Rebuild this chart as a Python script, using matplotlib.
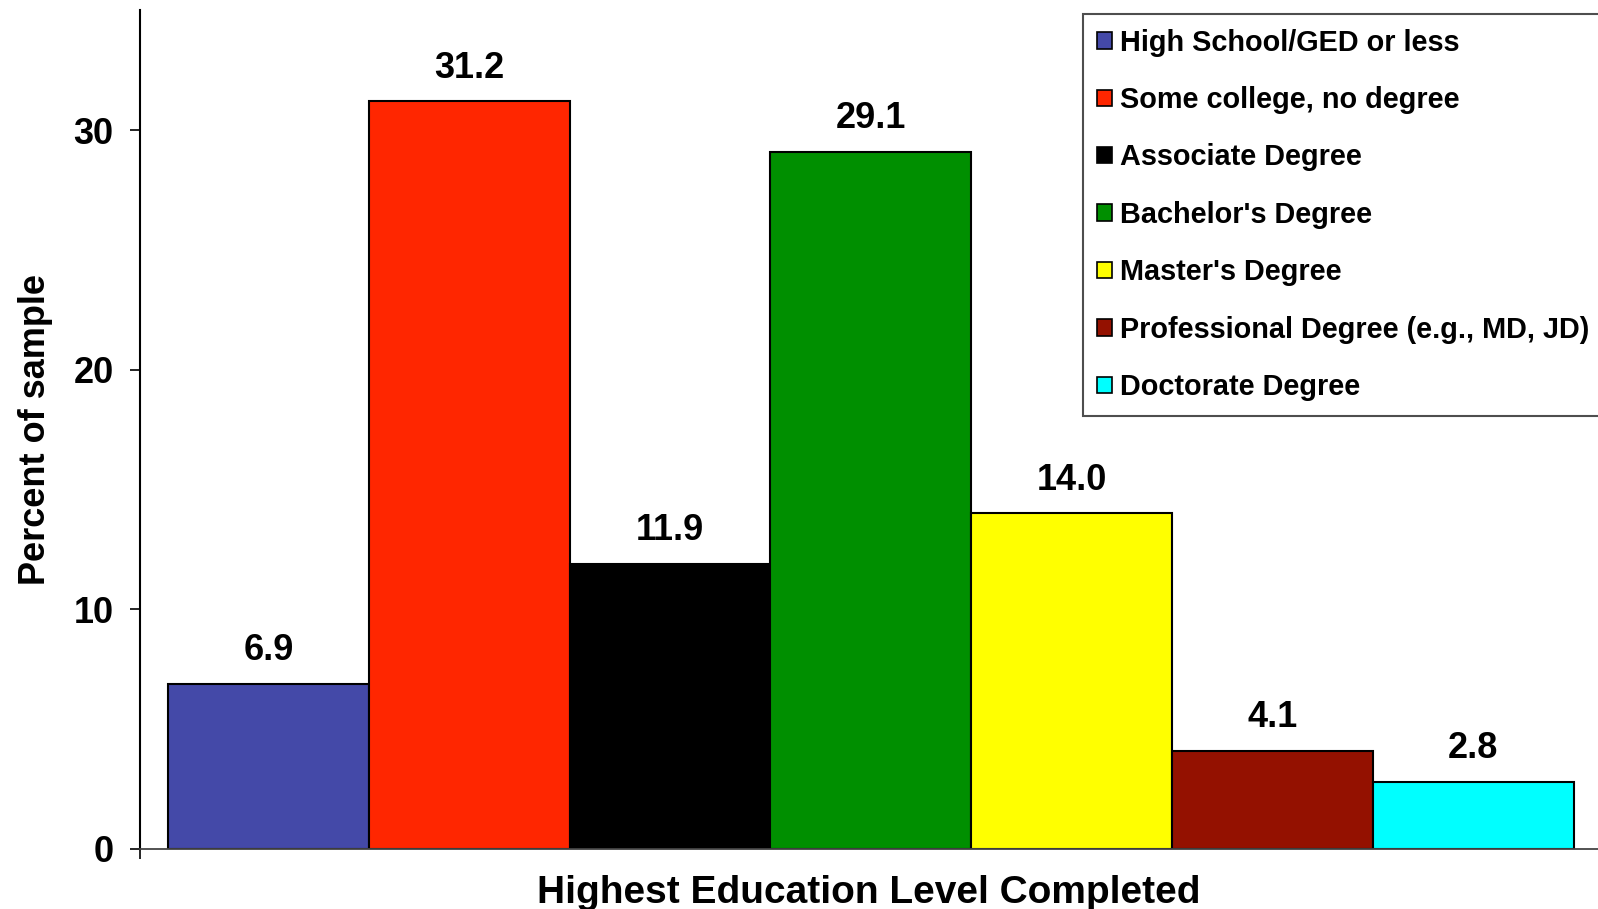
import matplotlib
matplotlib.use("Agg")
import matplotlib.pyplot as plt
from matplotlib.patches import Patch

# Datos
categorias = [
    "High School/GED or less",
    "Some college, no degree",
    "Associate Degree",
    "Bachelor's Degree",
    "Master's Degree",
    "Professional Degree (e.g., MD, JD)",
    "Doctorate Degree",
]
porcentajes = [6.9, 31.2, 11.9, 29.1, 14.0, 4.1, 2.8]
colores = ["#4449A8", "#FF2600", "#000000", "#008F00", "#FFFF00", "#941100", "#00FFFF"]
yticks = [0, 10, 20, 30]

plt.rcParams['font.family'] = ['Liberation Sans', 'DejaVu Sans']
plt.rcParams['font.weight'] = 'bold'

fig = plt.figure(figsize=(15.98, 9.09), dpi=100)
ax = fig.add_axes([139.6 / 1598, 1 - 849 / 909, 1 - 139.6 / 1598, (849 - 10.2) / 909])

x = list(range(len(categorias)))
barras = ax.bar(x, porcentajes, width=1.0, color=colores, edgecolor='black', linewidth=1.5)

for xi, v in zip(x, porcentajes):
    ax.annotate(f"{v:.1f}", (xi, v), xytext=(0, 17), textcoords='offset points',
                ha='center', va='baseline', fontsize=26, fontweight='bold')

x0, x1 = -0.642, 6.622
ax.set_xlim(x0, x1)
ax.set_ylim(0, 35)
ax.set_yticks(yticks)
ax.set_yticklabels([str(t) for t in yticks], fontsize=26, fontweight='bold')
ax.tick_params(axis='y', direction='out', length=7.2, width=1.2, pad=11.5)
ax.set_xticks([x0])
ax.set_xticklabels([''])
ax.tick_params(axis='x', direction='out', length=7.2, width=1.2)

ax.spines['top'].set_visible(False)
ax.spines['right'].set_visible(False)
ax.spines['left'].set_linewidth(1.5)
ax.spines['bottom'].set_color('#444444')
ax.spines['bottom'].set_linewidth(1.3)

ax.set_ylabel("Percent of sample", fontsize=26, fontweight='bold')
ax.yaxis.set_label_coords(-0.0595, 0.5)
ax.set_xlabel("Highest Education Level Completed", fontsize=28, fontweight='bold', va='top')
ax.xaxis.set_label_coords(0.5, -0.031)

handles = [Patch(facecolor=c, edgecolor='black', linewidth=1.2) for c in colores]
leg = fig.legend(handles, categorias, loc='upper left',
                 bbox_to_anchor=(1082.8 / 1598, 1 - 14.1 / 909), borderaxespad=0,
                 fontsize=20.8, frameon=True, fancybox=False, edgecolor='#222222',
                 handlelength=0.5, handleheight=0.5, handletextpad=0.28,
                 labelspacing=1.02, borderpad=0.5)
leg.get_frame().set_linewidth(1.5)
for t in leg.get_texts():
    t.set_fontweight('bold')

fig.savefig("out.png", dpi=100)
